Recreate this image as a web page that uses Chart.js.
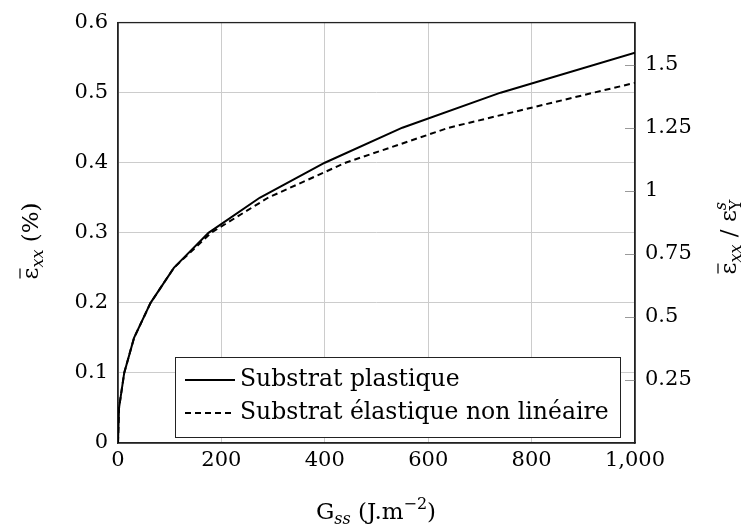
<!DOCTYPE html>
<html>
<head>
<meta charset="utf-8">
<script src="https://cdn.jsdelivr.net/npm/chart.js@4/dist/chart.umd.min.js"></script>
<style>
  html, body { margin: 0; padding: 0; background: #fff; }
  #wrap { width: 744px; height: 531px; position: relative; }
</style>
</head>
<body>
<div id="wrap"><canvas id="c"></canvas></div>
<script>
// ---- data ----
const seriesLabels = ['Substrat plastique', 'Substrat élastique non linéaire'];
const gPlastique   = [0, 2, 12, 31, 63, 108, 175, 274, 400, 550, 740, 1000];
const epsPlastique = [0, 0.05, 0.10, 0.15, 0.20, 0.25, 0.30, 0.35, 0.40, 0.45, 0.50, 0.557];
const gElastique   = [0, 2, 12, 31, 63, 108, 180, 290, 440, 640, 920, 1000];
const epsElastique = [0, 0.05, 0.10, 0.15, 0.20, 0.25, 0.30, 0.35, 0.40, 0.45, 0.50, 0.514];
const epsYs = 0.36;              // yield strain (%), right axis = left / epsYs
const xTicks = [0, 200, 400, 600, 800, 1000];
const yTicks = [0, 0.1, 0.2, 0.3, 0.4, 0.5, 0.6];
const y2Ticks = [0.25, 0.5, 0.75, 1, 1.25, 1.5];

const FONT = '"DejaVu Serif", serif';

function toPoints(xs, ys) { return xs.map((x, i) => ({ x: x, y: ys[i] })); }

// draw text made of parts (subscripts, superscripts, overline), centred at (cx, cy baseline)
function drawRich(ctx, parts, cx, cy, rotate) {
  ctx.save();
  ctx.translate(cx, cy);
  if (rotate) ctx.rotate(-Math.PI / 2);
  ctx.textBaseline = 'alphabetic';
  ctx.textAlign = 'left';
  ctx.fillStyle = '#000';
  let total = 0;
  parts.forEach(p => { ctx.font = p.font; p.w = ctx.measureText(p.text).width; if (!p.stack) total += p.w; });
  let x = -total / 2;
  parts.forEach(p => {
    ctx.font = p.font;
    ctx.fillText(p.text, x, p.dy || 0);
    if (p.overline) {
      ctx.beginPath();
      ctx.lineWidth = 1.2;
      ctx.strokeStyle = '#000';
      ctx.moveTo(x + 1, (p.dy || 0) - p.overline);
      ctx.lineTo(x + p.w - 1, (p.dy || 0) - p.overline);
      ctx.stroke();
    }
    if (!p.stack) x += p.w;
  });
  ctx.restore();
}

const base = '23px ' + FONT;
const sub = 'italic 16px ' + FONT;
const subUp = '16px ' + FONT;

const decorPlugin = {
  id: 'decor',
  beforeDatasetsDraw(chart) {
    const { ctx, chartArea: a } = chart;
    ctx.save();
    // inward ticks of right axis
    const y2 = chart.scales.y2;
    ctx.strokeStyle = '#9a9a9a';
    ctx.lineWidth = 1;
    y2Ticks.forEach(v => {
      const py = Math.round(y2.getPixelForValue(v)) + 0.5;
      ctx.beginPath();
      ctx.moveTo(a.right - 10, py);
      ctx.lineTo(a.right, py);
      ctx.stroke();
    });
    // frame
    ctx.strokeStyle = '#222';
    ctx.lineWidth = 1.3;
    ctx.strokeRect(a.left, a.top, a.right - a.left, a.bottom - a.top);
    ctx.restore();
  },
  afterDatasetsDraw(chart) {
    const { ctx } = chart;
    ctx.save();
    // legend box
    const bx = 175, by = 357, bw = 445, bh = 80;
    ctx.fillStyle = '#fff';
    ctx.fillRect(bx, by, bw, bh);
    ctx.strokeStyle = '#222';
    ctx.lineWidth = 1;
    ctx.strokeRect(bx + 0.5, by + 0.5, bw, bh);
    const rows = [380, 413];
    chart.data.datasets.forEach((ds, i) => {
      const ry = rows[i];
      ctx.beginPath();
      ctx.strokeStyle = ds.borderColor;
      ctx.lineWidth = ds.borderWidth;
      ctx.setLineDash(ds.borderDash || []);
      ctx.moveTo(185, ry);
      ctx.lineTo(235, ry);
      ctx.stroke();
      ctx.setLineDash([]);
      ctx.fillStyle = '#000';
      ctx.font = '23.5px ' + FONT;
      ctx.textBaseline = 'middle';
      ctx.textAlign = 'left';
      ctx.fillText(ds.label, 240, ry);
    });
    ctx.restore();
  },
  afterDraw(chart) {
    const { ctx } = chart;
    // left title
    drawRich(ctx, [
      { text: 'ε', font: base, overline: 18 },
      { text: 'xx', font: sub, dy: 5 },
      { text: ' (%)', font: base }
    ], 38, 241, true);
    // right title
    drawRich(ctx, [
      { text: 'ε', font: base, overline: 18 },
      { text: 'xx', font: sub, dy: 5 },
      { text: ' / ', font: base },
      { text: 'ε', font: base },
      { text: 's', font: sub, dy: -10, stack: true },
      { text: 'Y', font: subUp, dy: 5 }
    ], 736, 237, true);
    // bottom title
    drawRich(ctx, [
      { text: 'G', font: base },
      { text: 'ss', font: sub, dy: 5 },
      { text: ' (J.m', font: base },
      { text: '−2', font: subUp, dy: -10 },
      { text: ')', font: base }
    ], 376, 519, false);
  }
};

const tickFont = { family: FONT, size: 21 };

new Chart(document.getElementById('c'), {
  type: 'scatter',
  data: {
    datasets: [
      {
        label: seriesLabels[0],
        data: toPoints(gPlastique, epsPlastique),
        showLine: true, borderColor: '#000', borderWidth: 2,
        pointRadius: 0, tension: 0, yAxisID: 'y'
      },
      {
        label: seriesLabels[1],
        data: toPoints(gElastique, epsElastique),
        showLine: true, borderColor: '#000', borderWidth: 2, borderDash: [6, 4],
        pointRadius: 0, tension: 0, yAxisID: 'y'
      }
    ]
  },
  options: {
    responsive: true,
    maintainAspectRatio: false,
    animation: false,
    layout: { padding: { top: 20, left: 0, right: 0, bottom: 0 } },
    plugins: { legend: { display: false }, tooltip: { enabled: false } },
    scales: {
      x: {
        type: 'linear', min: 0, max: 1000,
        afterBuildTicks: s => { s.ticks = xTicks.map(v => ({ value: v })); },
        afterFit: s => { s.height = 88; },
        ticks: { font: tickFont, color: '#000', padding: 5 },
        grid: { color: '#cccccc', lineWidth: 1, drawTicks: false },
        border: { display: true, color: '#222', width: 1.3 }
      },
      y: {
        type: 'linear', min: 0, max: 0.6, position: 'left',
        afterBuildTicks: s => { s.ticks = yTicks.map(v => ({ value: v })); },
        afterFit: s => { s.width = 118; },
        ticks: { font: tickFont, color: '#000', padding: 10, callback: v => String(+v.toFixed(2)) },
        grid: { color: '#cccccc', lineWidth: 1, drawTicks: false },
        border: { display: true, color: '#222', width: 1.3 }
      },
      y2: {
        type: 'linear', min: 0, max: 0.6 / epsYs, position: 'right',
        afterBuildTicks: s => { s.ticks = y2Ticks.map(v => ({ value: v })); },
        afterFit: s => { s.width = 109; },
        ticks: { font: tickFont, color: '#000', padding: 10, callback: v => String(+v.toFixed(2)) },
        grid: { display: false, drawTicks: false },
        border: { display: true, color: '#222', width: 1.3 }
      }
    }
  },
  plugins: [decorPlugin]
});
</script>
</body>
</html>
